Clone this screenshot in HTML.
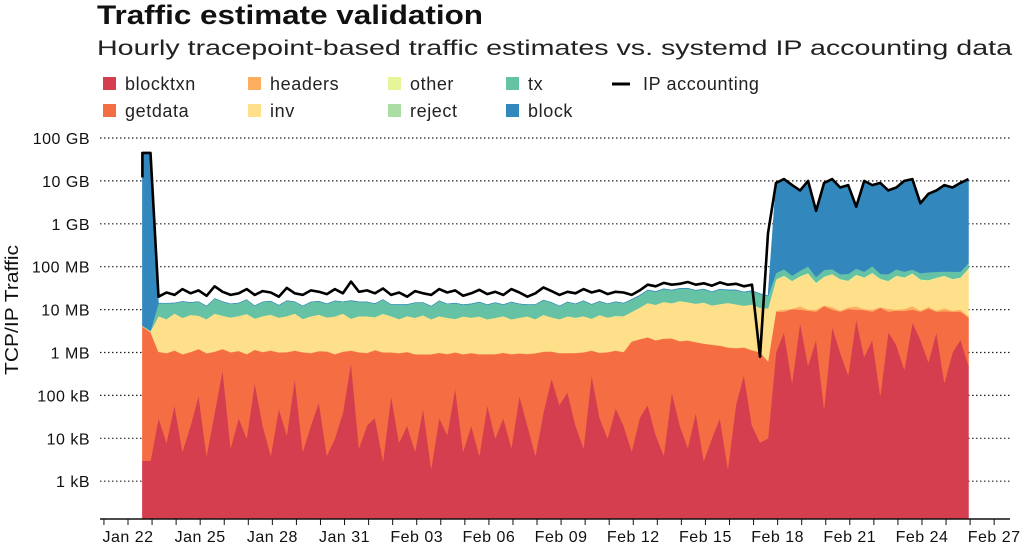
<!DOCTYPE html>
<html><head><meta charset="utf-8"><style>
body{margin:0;background:#fff;font-family:"Liberation Sans",sans-serif;}
#wrap{position:relative;width:1024px;height:547px;overflow:hidden;}
</style></head><body>
<div id="wrap">
<svg id="svg" width="1024" height="547" xmlns="http://www.w3.org/2000/svg" font-family="Liberation Sans, sans-serif">
<text x="97" y="24" font-size="27" font-weight="bold" fill="#111" textLength="386" lengthAdjust="spacingAndGlyphs">Traffic estimate validation</text>
<text x="97" y="55" font-size="21" fill="#222" textLength="915" lengthAdjust="spacingAndGlyphs">Hourly tracepoint-based traffic estimates vs. systemd IP accounting data</text>
<g id="legend" font-size="18" letter-spacing="0.6" fill="#222"></g>
<g id="grid"></g>
<g id="areas"></g>
<g id="line"></g>
<g id="axes" font-size="16" letter-spacing="0.5" fill="#111"></g>
<text transform="translate(18,310) rotate(-90)" text-anchor="middle" font-size="18" fill="#111" textLength="130" lengthAdjust="spacingAndGlyphs">TCP/IP Traffic</text>
</svg>
</div>
<script>
// values in MB, sample i at day t = 0.6 + i/3 (days after Jan 22)
const blocktxn=[0.003,0.003,
0.03,0.008,0.06,0.005,0.02,0.1,0.004,0.04,0.4,0.006,0.03,0.01,0.2,0.02,0.004,0.05,0.012,0.25,0.005,0.02,0.07,0.004,0.01,0.04,0.6,0.006,0.02,0.03,0.003,0.1,0.008,0.02,0.005,0.05,0.002,0.03,0.012,0.15,0.005,0.02,0.004,0.06,0.01,0.03,0.006,0.1,0.02,0.004,0.04,0.25,0.06,0.12,0.02,0.006,0.3,0.03,0.01,0.05,0.02,
0.005,0.03,0.06,0.012,0.004,0.12,0.02,0.006,0.04,0.003,0.01,0.03,0.002,0.06,0.3,0.02,0.008,
0.01,
1,3,0.2,5,0.5,2,0.05,4,1,0.3,6,0.8,2,0.1,3,1.5,0.4,5,2,0.6,3,0.2,1,2,0.5];
const getdata=[4,3,
1.0,0.95,1.05,0.9,1.0,1.1,0.95,1.0,0.8,1.0,1.05,0.9,0.95,1.0,1.1,0.95,1.0,0.85,1.0,0.95,1.0,1.05,0.9,1.0,0.5,1.0,0.95,1.1,1.0,0.9,0.95,1.0,0.9,0.85,0.9,0.95,0.9,0.85,0.9,0.95,0.9,0.85,0.9,0.95,0.9,0.85,0.9,0.95,1.0,0.8,0.9,0.85,0.95,1.0,0.8,0.95,1.0,1.05,1.0,
1.8,2.0,2.2,1.9,2.1,2.0,1.8,1.9,1.7,1.6,1.5,1.4,1.3,1.2,1.0,1.1,1.0,
0.6,
8,6,10,5,9,7,12,6,8,10,4,9,7,11,6,8,9,5,7,10,6,9,8,7,6];
const headers=[0.01,0.01,
0.02,0.02,0.02,0.02,0.02,0.02,0.02,0.02,0.02,0.02,0.02,0.02,0.02,0.02,0.02,0.02,0.02,0.02,0.02,0.02,0.02,0.02,0.02,0.02,0.02,0.02,0.02,0.02,0.02,0.02,0.02,0.02,0.02,0.02,0.02,0.02,0.02,0.02,0.02,0.02,0.02,0.02,0.02,0.02,0.02,0.02,0.02,0.02,0.02,0.02,0.02,0.02,0.02,0.02,0.02,0.02,0.02,0.02,0.02,
0.03,0.03,0.03,0.03,0.03,0.03,0.03,0.03,0.03,0.03,0.03,0.03,0.03,0.03,0.03,0.03,0.03,
0.03,
0.5,1,0.3,2,0.5,1,0.4,1.5,0.5,1,2,0.5,1,0.3,1.5,0.5,1,2,0.5,1,0.5,1.5,0.5,1,0.5];
const inv=[0.1,0.1,
6,5,7,5.5,6.5,6,5,7,6,5.5,6,7,5,6,6.5,5.5,6,7,5,6,6.5,5.5,6,7,5,6,6,5.5,7,6,5,6,5.5,6.5,5,6,5.5,5,6,5.5,6,5,5.5,6,5,5.5,6,5,6.5,5.5,5,6,5.5,6,5,6.5,5.5,6,6,
7,9,12,11,13,12,14,13,12,13,11,12,13,12,11,12,10,
10,
40,50,35,45,60,30,45,55,40,35,50,45,60,40,35,50,45,55,40,35,45,50,40,45,80];
const other=[0.01,0.01,
0.03,0.03,0.03,0.03,0.03,0.03,0.03,0.03,0.03,0.03,0.03,0.03,0.03,0.03,0.03,0.03,0.03,0.03,0.03,0.03,0.03,0.03,0.03,0.03,0.03,0.03,0.03,0.03,0.03,0.03,0.03,0.03,0.03,0.03,0.03,0.03,0.03,0.03,0.03,0.03,0.03,0.03,0.03,0.03,0.03,0.03,0.03,0.03,0.03,0.03,0.03,0.03,0.03,0.03,0.03,0.03,0.03,0.03,0.03,
0.05,0.05,0.05,0.05,0.05,0.05,0.05,0.05,0.05,0.05,0.05,0.05,0.05,0.05,0.05,0.05,0.05,
0.05,
1,2,1,3,1,2,1,1,2,1,3,1,2,1,1,2,1,3,1,2,1,1,2,1,4];
const reject=[0.01,0.01,
0.01,0.01,0.01,0.01,0.01,0.01,0.01,0.01,0.01,0.01,0.01,0.01,0.01,0.01,0.01,0.01,0.01,0.01,0.01,0.01,0.01,0.01,0.01,0.01,0.01,0.01,0.01,0.01,0.01,0.01,0.01,0.01,0.01,0.01,0.01,0.01,0.01,0.01,0.01,0.01,0.01,0.01,0.01,0.01,0.01,0.01,0.01,0.01,0.01,0.01,0.01,0.01,0.01,0.01,0.01,0.01,0.01,0.01,0.01,
0.01,0.01,0.01,0.01,0.01,0.01,0.01,0.01,0.01,0.01,0.01,0.01,0.01,0.01,0.01,0.01,0.01,
0.01,
0.5,0.5,0.5,0.5,0.5,0.5,0.5,0.5,0.5,0.5,0.5,0.5,0.5,0.5,0.5,0.5,0.5,0.5,0.5,0.5,0.5,0.5,0.5,0.5,0.5];
const tx=[0.1,0.1,
7,8,6,9,7,8,6,10,8,7,7,9,6,8,8,6,9,7,6,8,8,7,9,7,10,8,8,7,9,6,7,6,8,7,6,9,7,8,6,7,8,7,8,6,9,7,6,7,9,8,6,8,7,9,7,8,7,8,7,
8,10,14,13,15,14,15,16,14,15,13,16,14,15,13,14,12,
10,
20,25,15,20,30,15,25,20,15,20,25,20,30,15,20,25,20,15,20,25,20,15,25,20,30];
const block=[45000,45000,
0.1,0.1,0.1,0.1,0.1,0.1,0.1,0.1,0.1,0.1,0.1,0.1,0.1,0.1,0.1,0.1,0.1,0.1,0.1,0.1,0.1,0.1,0.1,0.1,0.1,0.1,0.1,0.1,0.1,0.1,0.1,0.1,0.1,0.1,0.1,0.1,0.1,0.1,0.1,0.1,0.1,0.1,0.1,0.1,0.1,0.1,0.1,0.1,0.1,0.1,0.1,0.1,0.1,0.1,0.1,0.1,0.1,0.1,0.1,
0.5,0.5,0.5,0.5,0.5,0.5,0.5,0.5,0.5,0.5,0.5,0.5,0.5,0.5,0.5,0.5,0.5,
0.5,
8800,10800,7800,5800,9800,1900,8800,10800,6800,7800,2400,9800,7800,8800,5800,6800,9800,10800,2900,4800,5800,7800,6800,8800,10800];
const ipAccounting=[45000,45000,
20,25,22,30,24,28,21,35,26,22,24,30,22,27,25,20,32,24,22,28,26,23,30,24,45,26,28,24,31,22,25,20,27,24,22,30,25,28,21,24,29,23,26,22,30,25,20,24,33,27,22,26,24,30,25,28,23,26,25,
22,28,38,35,42,38,40,44,38,41,36,43,38,40,35,38,0.8,
600,
9000,11000,8000,6000,10000,2000,9000,11000,7000,8000,2500,10000,8000,9000,6000,7000,10000,11000,3000,5000,6000,8000,7000,9000,11000];
const yTickLabels=["100 GB","10 GB","1 GB","100 MB","10 MB","1 MB","100 kB","10 kB","1 kB"];
const yTickValues=[1e11,1e10,1e9,1e8,1e7,1e6,1e5,1e4,1e3];
const xTickLabels=["Jan 22","Jan 25","Jan 28","Jan 31","Feb 03","Feb 06","Feb 09","Feb 12","Feb 15","Feb 18","Feb 21","Feb 24","Feb 27"];
const xTickDays=[0,3,6,9,12,15,18,21,24,27,30,33,36];

const NS="http://www.w3.org/2000/svg";
const X0=128,PXD=24.06,Y0=138,PXDEC=42.9,YB=519;
function xs(t){return X0+PXD*t;}
function ys(bytes){const y=Y0+(11-Math.log10(bytes))*PXDEC;return Math.min(YB,Math.max(125,y));}
function tOf(i){return 0.6+i/3;}
function mk(tag,attrs,parent){const e=document.createElementNS(NS,tag);for(const k in attrs)e.setAttribute(k,attrs[k]);parent.appendChild(e);return e;}

const grid=document.getElementById('grid'),axes=document.getElementById('axes');
yTickValues.forEach((v,k)=>{
  const y=ys(v);
  const g=mk('line',{x1:100,x2:1010,y1:y,y2:y,stroke:'#222','stroke-width':1.2,'stroke-dasharray':'1.5,2.5'},grid);
  
  
  const t=mk('text',{x:90,y:y+6,'text-anchor':'end'},axes);
  t.textContent=yTickLabels[k];
  
  
});

const series=[["blocktxn",blocktxn,"#d53e4f"],["getdata",getdata,"#f46d43"],["headers",headers,"#fdae61"],["inv",inv,"#fee08b"],["other",other,"#e6f598"],["reject",reject,"#abdda4"],["tx",tx,"#66c2a5"],["block",block,"#3288bd"]];
const areas=document.getElementById('areas');
const n=blocktxn.length;
let lower=new Array(n).fill(0);
series.forEach(([name,arr,col])=>{
  const upper=lower.map((l,i)=>l+arr[i]*1e6);
  let d='';
  for(let i=0;i<n;i++)d+=(i?'L':'M')+xs(tOf(i)).toFixed(1)+','+ys(upper[i]).toFixed(1);
  for(let i=n-1;i>=0;i--)d+='L'+xs(tOf(i)).toFixed(1)+','+(lower[i]>0?ys(lower[i]):YB).toFixed(1);
  const p=mk('path',{d:d+'Z',fill:col,stroke:col,'stroke-width':0.5},areas);
  
  
  lower=upper;
});
let ld='M'+xs(tOf(0)).toFixed(1)+','+ys(1.2e10).toFixed(1);
ipAccounting.forEach((v,i)=>{ld+='L'+xs(tOf(i)).toFixed(1)+','+ys(v*1e6).toFixed(1);});
const lp=mk('path',{d:ld,fill:'none',stroke:'#000','stroke-width':2.6,'stroke-linejoin':'round'},document.getElementById('line'));



const ax=mk('line',{x1:100,x2:1010,y1:YB,y2:YB,stroke:'#111','stroke-width':1.5},axes);


for(let d=-1;d<=36;d++){
  const x=xs(d);
  if(x<100||x>1010)continue;
  const tk=mk('line',{x1:x,x2:x,y1:YB,y2:YB+6,stroke:'#111','stroke-width':1},axes);
  
  
}
xTickDays.forEach((d,k)=>{
  const t=mk('text',{x:xs(d),y:542,'text-anchor':'middle'},axes);
  t.textContent=xTickLabels[k];
  
  
});

const legend=document.getElementById('legend');
const leg=[["blocktxn","#d53e4f",103,84],["getdata","#f46d43",103,111],["headers","#fdae61",248,84],["inv","#fee08b",248,111],["other","#e6f598",388,84],["reject","#abdda4",388,111],["tx","#66c2a5",506,84],["block","#3288bd",506,111]];
leg.forEach(([name,col,x,y])=>{
  const r=mk('rect',{x:x,y:y-7,width:13,height:13,fill:col},legend);
  
  
  const t=mk('text',{x:x+22,y:y+6},legend);
  t.textContent=name;
  
  
});
const ll=mk('line',{x1:612,x2:630,y1:84,y2:84,stroke:'#000','stroke-width':3},legend);


const lt=mk('text',{x:643,y:90},legend);
lt.textContent='IP accounting';


</script>
</body></html>
